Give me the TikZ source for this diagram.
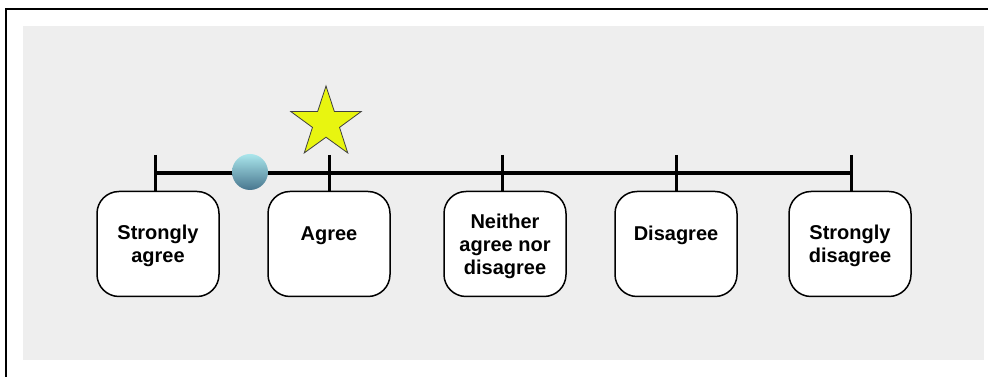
\documentclass[tikz,border=0pt]{standalone}
\usepackage{fontspec}
\setmainfont{Liberation Sans}
\usetikzlibrary{shapes.geometric}

\tikzset{
  scalebox/.style={draw=black,line width=1.5pt,fill=white,rounded corners=22pt,
    minimum width=122pt,minimum height=105pt,inner sep=0pt},
  scaletext/.style={align=center,inner sep=0pt,outer sep=0pt,anchor=base,
    font=\fontsize{20}{23}\selectfont\bfseries},
  tickline/.style={draw=black,line width=3pt}
}

\begin{document}
\begin{tikzpicture}[x=1pt,y=1pt]
\definecolor{fillColor}{RGB}{255,255,255}
\path[use as bounding box,fill=fillColor] (0,0) rectangle (988,377);
\definecolor{drawColor}{RGB}{0,0,0}
\definecolor{panelColor}{RGB}{238,238,238}

\path[draw=drawColor,line width=2pt] (6,0) -- (6,367.7) -- (988,367.7);

\path[fill=panelColor] (23,17) rectangle (984,351);

\node[scalebox] (sa) at (158,133) {};
\node[scalebox] (ag) at (329,133) {};
\node[scalebox] (nn) at (505,133) {};
\node[scalebox] (dg) at (676,133) {};
\node[scalebox] (sd) at (850,133) {};

\coordinate (tsa) at (155,222);
\coordinate (tag) at (329,222);
\coordinate (tnn) at (502,222);
\coordinate (tdg) at (676,222);
\coordinate (tsd) at (851,222);

\path[tickline] (tsa) -- (tsa |- sa.north);
\path[tickline] (tag) -- (tag |- ag.north);
\path[tickline] (tnn) -- (tnn |- nn.north);
\path[tickline] (tdg) -- (tdg |- dg.north);
\path[tickline] (tsd) -- (tsd |- sd.north);

\path[draw=drawColor,line width=3.5pt] ([yshift=-18pt]tsa) -- ([yshift=-18pt]tsd);

\node[scaletext] (lsa) at ([yshift=-19pt]sa.center) {Strongly\\agree};
\node[scaletext] (lag) at ([yshift=3pt]ag.center) {Agree};
\node[scaletext] (lnn) at ([yshift=-31pt]nn.center) {Neither\\agree nor\\disagree};
\node[scaletext] (ldg) at ([yshift=3pt]dg.center) {Disagree};
\node[scaletext] (lsd) at ([yshift=-19pt]sd.center) {Strongly\\disagree};

\definecolor{markTop}{RGB}{170,230,236}
\definecolor{markBottom}{RGB}{72,118,142}
\node[circle,minimum size=36pt,inner sep=0pt,top color=markTop,bottom color=markBottom] (marker) at (250,205) {};

\definecolor{starColor}{RGB}{232,245,16}
\definecolor{starLine}{gray}{0.25}
\node[star,star points=5,star point ratio=2.6,minimum size=74pt,inner sep=0pt,
  fill=starColor,draw=starLine,line width=0.8pt] (choice) at (326,254) {};
\end{tikzpicture}
\end{document}
